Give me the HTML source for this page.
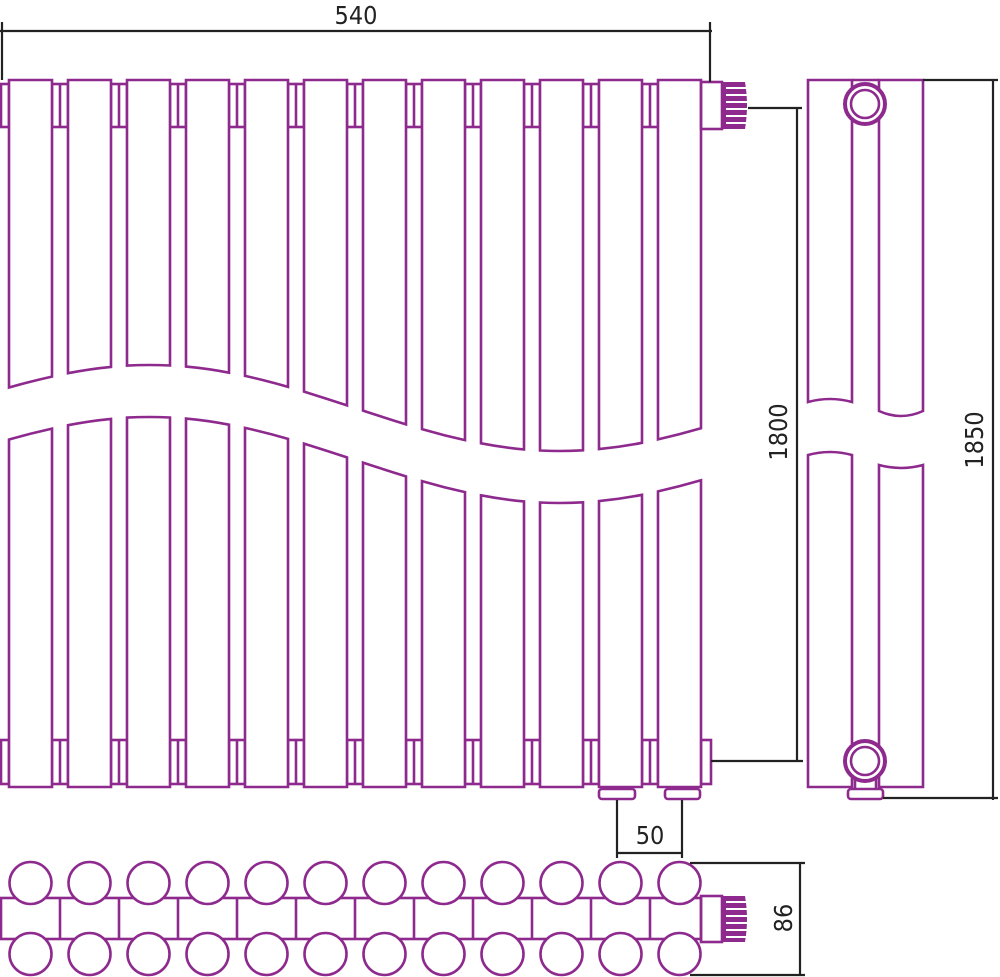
<!DOCTYPE html>
<html><head><meta charset="utf-8"><style>
html,body{margin:0;padding:0;background:#fff;}
svg{display:block}
text{font-family:"DejaVu Sans Condensed","Liberation Sans",sans-serif;fill:#222;}
</style></head><body>
<svg width="1000" height="977" viewBox="0 0 1000 977" xmlns="http://www.w3.org/2000/svg">
<g fill="none" stroke="#8e2a8e" stroke-width="2.6" stroke-linejoin="miter">
<!-- connectors top & bottom -->
<rect x="1" y="84" width="8" height="43"/><rect x="1" y="740" width="8" height="44"/>
<g id="cn">
<rect x="52" y="84" width="16" height="43"/><line x1="60" y1="84" x2="60" y2="127"/>
<rect x="52" y="740" width="16" height="44"/><line x1="60" y1="740" x2="60" y2="784"/>
</g>
<use href="#cn" x="59"/><use href="#cn" x="118"/><use href="#cn" x="177"/><use href="#cn" x="236"/><use href="#cn" x="295"/><use href="#cn" x="354"/><use href="#cn" x="413"/><use href="#cn" x="472"/><use href="#cn" x="531"/><use href="#cn" x="590"/>
<rect x="701" y="740" width="10" height="44"/>
<!-- tubes -->
<g fill="#fff">
<path d="M9 80H52V376.6Q30.5 381.35 9 387.5Z"/><path d="M9 439.5Q30.5 433.35 52 428.6V787H9Z"/>
<path d="M68 80H111V366.9Q89.5 368.95 68 373.2Z"/><path d="M68 425.2Q89.5 420.95 111 418.9V787H68Z"/>
<path d="M127 80H170V365.5Q148.5 364.45 127 365.6Z"/><path d="M127 417.6Q148.5 416.45 170 417.5V787H127Z"/>
<path d="M186 80H229V372.7Q207.5 368.55 186 366.6Z"/><path d="M186 418.6Q207.5 420.55 229 424.7V787H186Z"/>
<path d="M245 80H288V386.9Q266.5 380.6 245 375.9Z"/><path d="M245 427.9Q266.5 432.6 288 438.9V787H245Z"/>
<path d="M304 80H347V405.4Q325.5 398.3 304 391.6Z"/><path d="M304 443.6Q325.5 450.3 347 457.4V787H304Z"/>
<path d="M363 80H406V424.4Q384.5 417.7 363 410.6Z"/><path d="M363 462.6Q384.5 469.7 406 476.4V787H363Z"/>
<path d="M422 80H465V440.1Q443.5 435.4 422 429.1Z"/><path d="M422 481.1Q443.5 487.4 465 492.1V787H422Z"/>
<path d="M481 80H524V449.4Q502.5 447.45 481 443.3Z"/><path d="M481 495.3Q502.5 499.45 524 501.4V787H481Z"/>
<path d="M540 80H583V450.3Q561.5 451.6 540 450.5Z"/><path d="M540 502.5Q561.5 503.6 583 502.3V787H540Z"/>
<path d="M599 80H642V442.8Q620.5 447.05 599 449.1Z"/><path d="M599 501.1Q620.5 499.05 642 494.8V787H599Z"/>
<path d="M658 80H701V428.3Q679.5 434.55 658 439.4Z"/><path d="M658 491.4Q679.5 486.55 701 480.3V787H658Z"/>
</g>
<!-- feet -->
<rect x="599" y="789" width="36" height="10" rx="3"/><rect x="665" y="789" width="35" height="10" rx="3"/>
<!-- top valve -->
<rect x="701" y="82" width="21" height="47"/>
<path d="M722 82H745Q749 105 745 129H722Z" fill="#8e2a8e" stroke="none"/>
<g stroke="#fff" stroke-width="2"><line x1="726" y1="88" x2="748" y2="88"/><line x1="726" y1="95" x2="748" y2="95"/><line x1="726" y1="102" x2="748" y2="102"/><line x1="726" y1="109" x2="748" y2="109"/><line x1="726" y1="116" x2="748" y2="116"/><line x1="726" y1="123" x2="748" y2="123"/></g>
<!-- side view -->
<path d="M808 80H852V402Q830 396 808 402Z"/><path d="M879 80H923V411Q901 421 879 411Z"/>
<path d="M808 455Q830 449 852 455V787H808Z"/><path d="M879 465Q901 471 923 465V787H879Z"/>
<line x1="852" y1="80" x2="879" y2="80"/>
<circle cx="865" cy="104" r="20" fill="#fff" stroke-width="4"/><circle cx="865" cy="104" r="14"/>
<circle cx="865" cy="761" r="20" fill="#fff" stroke-width="4"/><circle cx="865" cy="761" r="14"/>
<line x1="855" y1="779" x2="855" y2="789"/><line x1="876" y1="779" x2="876" y2="789"/>
<rect x="848" y="789" width="35" height="10" rx="3"/>
<!-- bottom view -->
<rect x="1" y="898" width="700" height="41"/>
<g id="dv"><line x1="60" y1="898" x2="60" y2="939"/></g>
<use href="#dv" x="59"/><use href="#dv" x="118"/><use href="#dv" x="177"/><use href="#dv" x="236"/><use href="#dv" x="295"/><use href="#dv" x="354"/><use href="#dv" x="413"/><use href="#dv" x="472"/><use href="#dv" x="531"/><use href="#dv" x="590"/>
<g fill="#fff" id="cc"><circle cx="30.5" cy="883" r="21"/><circle cx="30.5" cy="954" r="21"/></g>
<use href="#cc" x="59"/><use href="#cc" x="118"/><use href="#cc" x="177"/><use href="#cc" x="236"/><use href="#cc" x="295"/><use href="#cc" x="354"/><use href="#cc" x="413"/><use href="#cc" x="472"/><use href="#cc" x="531"/><use href="#cc" x="590"/><use href="#cc" x="649"/>
<rect x="701" y="896" width="21" height="46"/>
<path d="M722 896H745Q749 919 745 942H722Z" fill="#8e2a8e" stroke="none"/>
<g stroke="#fff" stroke-width="2"><line x1="726" y1="902" x2="748" y2="902"/><line x1="726" y1="909" x2="748" y2="909"/><line x1="726" y1="916" x2="748" y2="916"/><line x1="726" y1="923" x2="748" y2="923"/><line x1="726" y1="930" x2="748" y2="930"/><line x1="726" y1="937" x2="748" y2="937"/></g>
</g>
<!-- dimensions -->
<g stroke="#222" stroke-width="2.2" fill="none">
<path d="M2 22V80M0 31H712M710 22V82"/>
<path d="M748 108H802M797 108V761M711 761H803"/>
<path d="M923 80H998M993 80V800M883 798H998"/>
<path d="M617 800V858M682 800V858M617 853H682"/>
<path d="M690 863H805M690 975H805M800 863V975"/>
</g>
<text x="356" y="24" font-size="25" text-anchor="middle">540</text>
<text x="650" y="844" font-size="25" text-anchor="middle">50</text>
<text transform="translate(787,432) rotate(-90)" font-size="25" text-anchor="middle">1800</text>
<text transform="translate(983,440) rotate(-90)" font-size="25" text-anchor="middle">1850</text>
<text transform="translate(792,918) rotate(-90)" font-size="25" text-anchor="middle">86</text>
</svg>
</body></html>
